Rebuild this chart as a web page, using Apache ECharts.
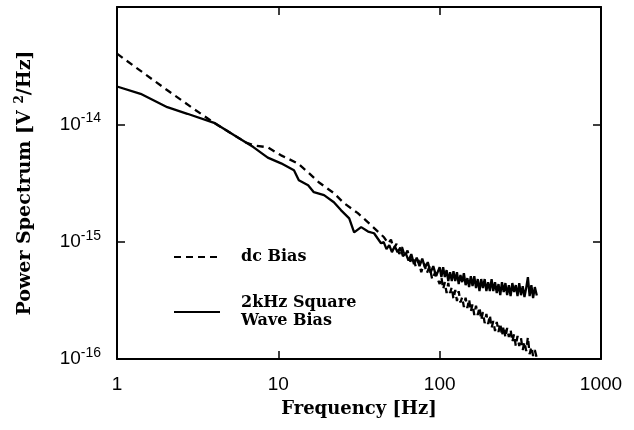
<!DOCTYPE html>
<html>
<head>
<meta charset="utf-8">
<script src="https://cdn.jsdelivr.net/npm/echarts@6/dist/echarts.min.js"></script>
<style>html,body{margin:0;padding:0;background:#fff;}#c{width:634px;height:430px;}</style>
</head>
<body>
<div id="c"></div>
<script>
// ---- data ----
var xTickLabels = ['1', '10', '100', '1000'];
var yTickExponents = [-16, -15, -14];

var solidName = '2kHz Square\nWave Bias';
var dashedName = 'dc Bias';

var solidFreq = [
  1, 1.4, 2.05, 2.73, 4.0, 5.3, 6.3, 7.0, 8.6, 10.4,
  12.5, 13.4, 15.3, 16.6, 19.2, 22.1, 24.5, 27.5, 29.5, 32.6,
  36, 39.2, 43.3,
  45, 46.8, 48.7, 50.6, 52.7, 54.8, 57.0, 59.2, 61.6, 64.1,
  66.7, 69.3, 72.1, 75.0, 78.0, 81.1, 84.4, 87.8, 91.3, 95.0,
  100, 102.5, 105.1, 107.7, 110.4, 113.1, 116.0, 118.9, 121.8, 124.9,
  128.0, 131.2, 134.5, 137.9, 141.3, 144.8, 148.5, 152.2, 156.0, 159.9,
  163.9, 168.0, 172.2, 176.5, 180.9, 185.4, 190.1, 194.8, 199.7, 204.7,
  209.8, 215.0, 220.4, 225.9, 231.6, 237.4, 243.3, 249.4, 255.6, 262.0,
  268.5, 275.2, 282.1, 289.2, 296.4, 303.8, 311.4, 319.2, 327.2, 335.4,
  343.7, 352.3, 361.1, 370.2, 379.4, 388.9, 400
];
var solidPsd = [
  2.10e-14, 1.82e-14, 1.40e-14, 1.23e-14, 1.03e-14, 8.1e-15, 7.0e-15, 6.4e-15, 5.2e-15, 4.65e-15,
  4.06e-15, 3.34e-15, 3.03e-15, 2.64e-15, 2.49e-15, 2.17e-15, 1.85e-15, 1.58e-15, 1.20e-15, 1.33e-15,
  1.22e-15, 1.18e-15, 9.7e-16,
  9.90e-16, 8.63e-16, 9.34e-16, 8.14e-16, 9.16e-16, 8.14e-16, 8.89e-16, 7.52e-16, 7.98e-16, 6.89e-16,
  7.83e-16, 6.44e-16, 7.31e-16, 6.19e-16, 7.17e-16, 6.01e-16, 6.69e-16, 5.45e-16, 6.19e-16, 5.09e-16,
  6.07e-16, 4.99e-16, 6.07e-16, 4.99e-16, 5.72e-16, 4.61e-16, 5.50e-16, 4.61e-16, 5.61e-16, 4.61e-16,
  5.50e-16, 4.35e-16, 5.19e-16, 4.52e-16, 5.39e-16, 4.26e-16, 4.89e-16, 4.10e-16, 5.09e-16, 4.18e-16,
  5.09e-16, 4.02e-16, 4.80e-16, 3.79e-16, 4.80e-16, 4.02e-16, 4.80e-16, 3.79e-16, 4.52e-16, 3.79e-16,
  4.80e-16, 3.79e-16, 4.52e-16, 3.65e-16, 4.35e-16, 3.50e-16, 4.52e-16, 3.72e-16, 4.44e-16, 3.50e-16,
  4.26e-16, 3.44e-16, 4.44e-16, 3.72e-16, 4.26e-16, 3.44e-16, 4.44e-16, 3.50e-16, 4.18e-16, 3.37e-16,
  4.02e-16, 4.99e-16, 3.44e-16, 4.26e-16, 3.30e-16, 4.10e-16, 3.47e-16
];

var dashedFreq = [
  1, 2, 3, 4.0, 5.3, 6.3, 7.04, 8.6, 10.4, 13.2,
  15.3, 17.8, 22.1, 25.5, 31.1, 37.6, 45.2,
  48, 49.9, 51.9, 54.0, 56.2, 58.4, 60.8, 63.2, 65.7, 68.4,
  71.1, 74.0, 76.9, 80.0, 83.2, 86.6, 90.0, 93.6,
  100, 102.5, 105.1, 107.7, 110.4, 113.1, 116.0, 118.9, 121.8, 124.9,
  128.0, 131.2, 134.5, 137.9, 141.3, 144.8, 148.5, 152.2, 156.0, 159.9,
  163.9, 168.0, 172.2, 176.5, 180.9, 185.4, 190.1, 194.8, 199.7, 204.7,
  209.8, 215.0, 220.4, 225.9, 231.6, 237.4, 243.3, 249.4, 255.6, 262.0,
  268.5, 275.2, 282.1, 289.2, 296.4, 303.8, 311.4, 319.2, 327.2, 335.4,
  343.7, 352.3, 361.1, 370.2, 379.4, 388.9, 400
];
var dashedPsd = [
  4.0e-14, 2.0e-14, 1.35e-14, 1.03e-14, 8.1e-15, 7.0e-15, 6.62e-15, 6.37e-15, 5.44e-15, 4.65e-15,
  3.90e-15, 3.21e-15, 2.59e-15, 2.13e-15, 1.75e-15, 1.38e-15, 1.09e-15,
  9.66e-16, 1.04e-15, 8.70e-16, 9.58e-16, 7.84e-16, 8.98e-16, 7.51e-16, 8.41e-16, 6.77e-16, 7.44e-16,
  6.10e-16, 6.99e-16, 5.50e-16, 6.55e-16, 5.37e-16, 6.14e-16, 4.75e-16, 5.43e-16,
  4.35e-16, 4.99e-16, 3.94e-16, 4.52e-16, 3.65e-16, 4.44e-16, 3.65e-16, 4.10e-16, 3.24e-16, 3.87e-16,
  3.12e-16, 3.79e-16, 3.03e-16, 3.37e-16, 2.77e-16, 3.33e-16, 2.72e-16, 3.24e-16, 2.53e-16, 2.94e-16,
  2.37e-16, 2.85e-16, 2.37e-16, 2.77e-16, 2.15e-16, 2.51e-16, 2.02e-16, 2.42e-16, 1.99e-16, 2.37e-16,
  1.84e-16, 2.11e-16, 1.73e-16, 2.07e-16, 1.70e-16, 2.02e-16, 1.57e-16, 1.91e-16, 1.52e-16, 1.84e-16,
  1.54e-16, 1.78e-16, 1.40e-16, 1.63e-16, 1.29e-16, 1.57e-16, 1.29e-16, 1.51e-16, 1.19e-16, 1.40e-16,
  1.17e-16, 1.54e-16, 1.10e-16, 1.27e-16, 1.06e-16, 1.19e-16, 1.02e-16
];

// ---- chart ----
function pairs(xs, ys) {
  var out = [];
  for (var i = 0; i < Math.min(xs.length, ys.length); i++) out.push([xs[i], ys[i]]);
  return out;
}
var serifBold = { fontFamily: 'DejaVu Serif', fontWeight: 'bold', color: '#000' };
var tickFont = 'Liberation Sans';

var chart = echarts.init(document.getElementById('c'), null, { renderer: 'canvas' });
var axisLine = { show: true, onZero: false, lineStyle: { color: '#000', width: 2 } };
var axisTick = { show: true, inside: true, length: 8, lineStyle: { color: '#000', width: 1.5 } };

chart.setOption({
  animation: false,
  backgroundColor: '#fff',
  grid: { left: 117, right: 33, top: 7, bottom: 71, containLabel: false },
  legend: {
    orient: 'vertical',
    left: 168,
    top: 243,
    itemWidth: 46,
    itemHeight: 14,
    itemGap: 28,
    data: [dashedName, solidName],
    itemStyle: { opacity: 0, color: 'rgba(0,0,0,0)', borderColor: 'rgba(0,0,0,0)', borderWidth: 0 },
    lineStyle: { width: 2 },
    textStyle: {
      fontFamily: 'DejaVu Serif', fontWeight: 'bold', fontSize: 16, color: '#000',
      lineHeight: 18, padding: [0, 0, 0, 16]
    }
  },
  xAxis: [{
    type: 'log', logBase: 10, min: 1, max: 1000, position: 'bottom',
    axisLine: axisLine, axisTick: axisTick, splitLine: { show: false },
    axisLabel: {
      margin: 16, fontFamily: tickFont, fontSize: 19, color: '#000',
      formatter: function (v) {
        var e = Math.round(Math.log10(v));
        return xTickLabels[e] !== undefined ? xTickLabels[e] : '';
      }
    },
    name: 'Frequency [Hz]', nameLocation: 'middle', nameGap: 41,
    nameTextStyle: Object.assign({ fontSize: 18 }, serifBold)
  }, {
    type: 'log', logBase: 10, min: 1, max: 1000, position: 'top',
    axisLine: axisLine, axisTick: axisTick, splitLine: { show: false },
    axisLabel: { show: false }
  }],
  yAxis: [{
    type: 'log', logBase: 10, min: 1e-16, max: 1e-13, position: 'left',
    axisLine: axisLine, axisTick: axisTick, splitLine: { show: false },
    axisLabel: {
      margin: 16, color: '#000',
      formatter: function (v) {
        var e = Math.round(Math.log10(v));
        if (yTickExponents.indexOf(e) < 0) return '';
        return '{b|10}{s|' + e + '}';
      },
      rich: {
        b: { fontFamily: tickFont, fontSize: 19, color: '#000' },
        s: { fontFamily: tickFont, fontSize: 14, color: '#000', padding: [0, 0, 12, 0] }
      }
    },
    name: '{t|Power Spectrum [V }{s|2}{t|/Hz]}', nameLocation: 'middle', nameGap: 80,
    nameTextStyle: {
      rich: {
        t: Object.assign({ fontSize: 19 }, serifBold),
        s: Object.assign({ fontSize: 12, padding: [0, 0, 11, 0] }, serifBold)
      }
    }
  }, {
    type: 'log', logBase: 10, min: 1e-16, max: 1e-13, position: 'right',
    axisLine: axisLine, axisTick: axisTick, splitLine: { show: false },
    axisLabel: { show: false }
  }],
  series: [{
    name: dashedName, type: 'line', xAxisIndex: 0, yAxisIndex: 0,
    data: pairs(dashedFreq, dashedPsd), showSymbol: false, symbol: 'none',
    lineStyle: { color: '#000', width: 2.3, type: [7, 5] }, itemStyle: { color: '#000' }
  }, {
    name: solidName, type: 'line', xAxisIndex: 0, yAxisIndex: 0,
    data: pairs(solidFreq, solidPsd), showSymbol: false, symbol: 'none',
    lineStyle: { color: '#000', width: 2.3 }, itemStyle: { color: '#000' }
  }]
});
</script>
</body>
</html>
